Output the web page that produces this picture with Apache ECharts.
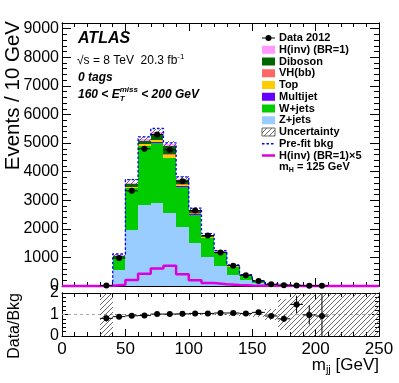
<!DOCTYPE html>
<html>
<head>
<meta charset="utf-8">
<title>mjj, 0 tags</title>
<script src="https://cdn.jsdelivr.net/npm/echarts@6.0.0/dist/echarts.min.js"></script>
<style>
  html, body { margin: 0; padding: 0; background: #fff; }
  #chart { width: 399px; height: 383px; }
</style>
</head>
<body>
<div id="chart"></div>
<script>
// m_jj bins, 10 GeV wide
var binLow = [0, 10, 20, 30, 40, 50, 60, 70, 80, 90, 100, 110, 120, 130, 140, 150, 160, 170, 180, 190, 200, 210, 220, 230, 240];
var binWidth = 10;

// Data 2012
var dataCounts = [null, null, null, 15, 980, 3330, 4800, 5300, 4770, 3660, 2640, 1765, 1170, 712, 375, 175, 60, 30, 20, 10, 7, null, null, null, null];
var dataErr    = [0, 0, 0, 4, 31, 58, 69, 73, 69, 60, 51, 42, 34, 27, 19, 13, 8, 5, 4, 3, 3, 0, 0, 0, 0];

// backgrounds, stacked from the bottom
var zJets    = [0, 0, 0, 8, 560, 1965, 2840, 2900, 2550, 2060, 1500, 1030, 712, 386, 210, 90, 35, 20, 7, 5, 4, 0, 0, 0, 0];
var wJets    = [0, 0, 0, 7, 440, 1455, 2050, 2110, 1930, 1420, 1000, 650, 440, 290, 150, 70, 28, 15, 6, 4, 3, 0, 0, 0, 0];
var multijet = [0, 0, 0, 1, 5, 10, 10, 10, 8, 6, 5, 3, 2, 1, 1, 0, 0, 0, 0, 0, 0, 0, 0, 0, 0];
var topQ     = [0, 0, 0, 1, 15, 35, 60, 80, 110, 60, 30, 20, 10, 8, 5, 2, 1, 0, 0, 0, 0, 0, 0, 0, 0];
var vhbb     = [0, 0, 0, 0, 3, 8, 12, 15, 18, 12, 6, 4, 2, 1, 1, 0, 0, 0, 0, 0, 0, 0, 0, 0, 0];
var diboson  = [0, 0, 0, 1, 30, 90, 100, 200, 270, 140, 90, 55, 40, 25, 15, 8, 3, 2, 1, 1, 1, 0, 0, 0, 0];
var hinv     = [0, 0, 0, 0, 20, 55, 60, 80, 90, 60, 35, 20, 15, 8, 5, 3, 1, 0, 0, 0, 0, 0, 0, 0, 0];
var bkgUnc   = [0, 0, 0, 5, 40, 110, 120, 110, 100, 80, 60, 40, 30, 20, 12, 8, 4, 3, 2, 2, 2, 0, 0, 0, 0];
var prefit   = [0, 0, 0, 20, 1120, 3720, 5217, 5510, 5010, 3815, 2725, 1830, 1240, 740, 400, 185, 70, 40, 15, 10, 8, 0, 0, 0, 0];
var hinvX5   = [0, 0, 0, 5, 40, 210, 430, 610, 712, 410, 200, 105, 65, 35, 20, 12, 8, 5, 3, 2, 1, 0, 0, 0, 0];

// Data/Bkg panel
var ratioVals = [null, null, null, 0.82, 0.90, 0.94, 0.95, 1.02, 1.02, 1.03, 1.05, 1.05, 1.07, 1.07, 1.05, 1.10, 0.93, 0.80, 1.47, 0.98, 0.93, null, null, null, null];
var ratioErr  = [0, 0, 0, 0.15, 0.03, 0.02, 0.02, 0.02, 0.02, 0.02, 0.02, 0.02, 0.03, 0.04, 0.06, 0.08, 0.12, 0.15, 0.40, 0.45, 1.20, 0, 0, 0, 0];
var ratioUnc  = [0, 0, 0, 2, 0.04, 0.03, 0.03, 0.03, 0.03, 0.03, 0.03, 0.04, 0.04, 0.05, 0.06, 0.12, 0.27, 0.70, 2, 2, 2, 2, 2, 2, 2];

var stackNames  = ['Z+jets', 'W+jets', 'Multijet', 'Top', 'VH(bb)', 'Diboson', 'H(inv) (BR=1)'];
var stackValues = [zJets, wJets, multijet, topQ, vhbb, diboson, hinv];
var stackColors = ['#99ccff', '#00cc00', '#6600ff', '#ffcc00', '#ff6666', '#006600', '#ff99ff'];

var FAMILY = '"Liberation Sans", Arial, sans-serif';

// hatch pattern for the uncertainty bands
function makeHatch() {
    var c = document.createElement('canvas');
    c.width = 5; c.height = 5;
    var g = c.getContext('2d');
    g.strokeStyle = '#444';
    g.lineWidth = 0.8;
    g.beginPath();
    g.moveTo(0, 5); g.lineTo(5, 0);
    g.moveTo(-1, 1); g.lineTo(1, -1);
    g.moveTo(4, 6); g.lineTo(6, 4);
    g.stroke();
    return c;
}
var hatch = makeHatch();

function stackTotal(i) {
    var s = 0;
    for (var k = 0; k < stackValues.length; k++) s += stackValues[k][i];
    return s;
}

function rectBetween(api, x0, x1, lo, hi) {
    var p0 = api.coord([x0, hi]);
    var p1 = api.coord([x1, lo]);
    var l = Math.round(p0[0]), r = Math.round(p1[0]);
    var t = Math.round(p0[1]), b = Math.round(p1[1]);
    return { x: l, y: t, width: r - l, height: b - t };
}

function stackRenderer(k) {
    return function (params, api) {
        var i = params.dataIndex;
        var lo = 0;
        for (var j = 0; j < k; j++) lo += stackValues[j][i];
        var hi = lo + stackValues[k][i];
        if (hi <= lo) return;
        return {
            type: 'rect',
            shape: rectBetween(api, binLow[i], binLow[i] + binWidth, lo, hi),
            style: { fill: stackColors[k] }
        };
    };
}

function errorRenderer(values, errs, ymin, ymax, r) {
    return function (params, api) {
        var i = params.dataIndex;
        var v = values[i];
        if (v == null) return;
        var x0 = binLow[i], xc = x0 + binWidth / 2;
        var c = api.coord([xc, v]);
        var pl = api.coord([x0, v]), pr = api.coord([x0 + binWidth, v]);
        var pt = api.coord([xc, Math.min(ymax, v + errs[i])]);
        var pb = api.coord([xc, Math.max(ymin, v - errs[i])]);
        return {
            type: 'group',
            children: [
                { type: 'line', shape: { x1: pl[0], y1: pl[1], x2: pr[0], y2: pr[1] }, style: { stroke: '#000', lineWidth: 1 } },
                { type: 'line', shape: { x1: pt[0], y1: pt[1], x2: pb[0], y2: pb[1] }, style: { stroke: '#000', lineWidth: 1 } },
                { type: 'circle', shape: { cx: c[0], cy: c[1], r: r }, style: { fill: '#000' } }
            ]
        };
    };
}

function stepData(vals) {
    var d = binLow.map(function (x, i) { return [x, vals[i]]; });
    d.push([binLow[binLow.length - 1] + binWidth, vals[vals.length - 1]]);
    return d;
}

var binItems = binLow.map(function (x) { return [x]; });

var series = [];
stackValues.forEach(function (vals, k) {
    series.push({
        name: stackNames[k], type: 'custom', xAxisIndex: 0, yAxisIndex: 0,
        data: binItems, renderItem: stackRenderer(k), z: 1, silent: true
    });
});
// uncertainty on the total
series.push({
    type: 'custom', xAxisIndex: 0, yAxisIndex: 0, data: binItems, z: 2, silent: true,
    renderItem: function (params, api) {
        var i = params.dataIndex;
        if (!bkgUnc[i]) return;
        var tot = stackTotal(i);
        return {
            type: 'rect',
            shape: rectBetween(api, binLow[i], binLow[i] + binWidth, Math.max(0, tot - bkgUnc[i]), tot + bkgUnc[i]),
            style: { fill: { image: hatch, repeat: 'repeat' } }
        };
    }
});
series.push({
    name: 'Pre-fit bkg', type: 'line', xAxisIndex: 0, yAxisIndex: 0, step: 'end',
    data: stepData(prefit), symbol: 'none', z: 3, silent: true, clip: false,
    lineStyle: { color: '#0000ff', width: 1.3, type: [2.5, 2] }
});
series.push({
    name: 'H(inv) (BR=1)x5', type: 'line', xAxisIndex: 0, yAxisIndex: 0, step: 'end',
    data: stepData(hinvX5), symbol: 'none', z: 4, silent: true, clip: false,
    lineStyle: { color: '#dd00dd', width: 2.5 }
});
series.push({
    name: 'Data 2012', type: 'custom', xAxisIndex: 0, yAxisIndex: 0, data: binItems, z: 5, silent: true,
    renderItem: errorRenderer(dataCounts, dataErr, 0, 9200, 3)
});

// ratio panel
series.push({
    type: 'line', xAxisIndex: 2, yAxisIndex: 4, data: [[0, 1], [250, 1]], symbol: 'none', z: 1, silent: true,
    lineStyle: { color: '#aaaaaa', width: 1, type: [3, 3] }
});
series.push({
    type: 'custom', xAxisIndex: 2, yAxisIndex: 4, data: binItems, z: 2, silent: true,
    renderItem: function (params, api) {
        var i = params.dataIndex;
        if (!ratioUnc[i]) return;
        return {
            type: 'rect',
            shape: rectBetween(api, binLow[i], binLow[i] + binWidth, Math.max(0, 1 - ratioUnc[i]), Math.min(2, 1 + ratioUnc[i])),
            style: { fill: { image: hatch, repeat: 'repeat' } }
        };
    }
});
series.push({
    type: 'custom', xAxisIndex: 2, yAxisIndex: 4, data: binItems, z: 5, silent: true,
    renderItem: errorRenderer(ratioVals, ratioErr, 0, 2, 3)
});

function xAxis(grid, pos, labels, major, minor) {
    return {
        type: 'value', gridIndex: grid, position: pos, min: 0, max: 250, interval: 50,
        axisLine: { show: true, onZero: false, lineStyle: { color: '#000', width: 1 } },
        axisTick: { show: true, inside: true, length: major, lineStyle: { color: '#000', width: 1 } },
        minorTick: { show: true, splitNumber: 5, length: minor, lineStyle: { color: '#000', width: 1 } },
        axisLabel: { show: labels, margin: 5, fontSize: 17, color: '#000', fontFamily: FAMILY },
        splitLine: { show: false }, minorSplitLine: { show: false }
    };
}

function yAxis(grid, pos, max, interval, labels, len, fmt) {
    return {
        type: 'value', gridIndex: grid, position: pos, min: 0, max: max, interval: interval,
        axisLine: { show: true, onZero: false, lineStyle: { color: '#000', width: 1 } },
        axisTick: { show: true, inside: true, length: len, lineStyle: { color: '#000', width: 1 } },
        axisLabel: { show: labels, margin: 3, fontSize: 16, color: '#000', fontFamily: FAMILY, formatter: fmt },
        splitLine: { show: false }
    };
}

var thousands = function (v) { return v % 1000 === 0 ? String(v) : ''; };
var units = function (v) { return Math.abs(v - Math.round(v)) < 1e-6 ? String(Math.round(v)) : ''; };

// small helper to lay out text runs with sub/superscripts
var measure = document.createElement('canvas').getContext('2d');
function fontStr(size, bold, italic) {
    return (italic ? 'italic ' : '') + (bold ? 'bold ' : '') + size + 'px ' + FAMILY;
}
function textRun(parts, x, y, opts) {
    opts = opts || {};
    var widths = parts.map(function (p) {
        measure.font = fontStr(p[1], opts.bold, opts.italic);
        return measure.measureText(p[0]).width;
    });
    var total = 0;
    parts.forEach(function (p, i) { if (!p[3]) total += widths[i]; });
    var cx = opts.alignRight ? x - total : x;
    var out = [];
    parts.forEach(function (p, i) {
        out.push({
            type: 'text', x: cx, y: y + (p[2] || 0), silent: true,
            style: { text: p[0], font: fontStr(p[1], opts.bold, opts.italic), fill: '#000', align: 'left', verticalAlign: 'middle' }
        });
        if (!p[3]) cx += widths[i];
    });
    return out;
}

var graphic = [];
graphic.push({
    type: 'text', x: 13, y: 21, rotation: Math.PI / 2, silent: true,
    style: { text: 'Events / 10 GeV', font: fontStr(20.5), fill: '#000', align: 'right', verticalAlign: 'middle' }
});
graphic.push({
    type: 'text', x: 15, y: 293, rotation: Math.PI / 2, silent: true,
    style: { text: 'Data/Bkg', font: fontStr(16), fill: '#000', align: 'right', verticalAlign: 'middle' }
});
graphic = graphic.concat(textRun([['m', 17], ['jj', 11, 5], [' [GeV]', 17]], 379, 365, { alignRight: true }));
graphic = graphic.concat(textRun([['ATLAS', 16]], 78, 39, { bold: true, italic: true }));
graphic = graphic.concat(textRun([['\u221As = 8 TeV  20.3 fb', 12], ['-1', 8, -4]], 77, 61));
graphic = graphic.concat(textRun([['0 tags', 12]], 78, 78, { bold: true, italic: true }));
graphic = graphic.concat(textRun([['160 < E', 12], ['T', 8, 4, true], ['miss', 8, -5], [' < 200 GeV', 12]], 78, 95, { bold: true, italic: true }));

// legend
var legendRows = ['Data 2012', 'H(inv) (BR=1)', 'Diboson', 'VH(bb)', 'Top', 'Multijet', 'W+jets', 'Z+jets', 'Uncertainty', 'Pre-fit bkg', 'H(inv) (BR=1)\u00D75'];
var legendSwatch = ['data', '#ff99ff', '#006600', '#ff6666', '#ffcc00', '#6600ff', '#00cc00', '#99ccff', 'hatch', 'dash', 'line'];
var ly0 = 38, ldy = 11.75, lx = 262, lw = 13;
legendRows.forEach(function (label, r) {
    var y = ly0 + r * ldy;
    var sw = legendSwatch[r];
    if (sw === 'data') {
        graphic.push({ type: 'line', silent: true, shape: { x1: lx, y1: y, x2: lx + lw, y2: y }, style: { stroke: '#000', lineWidth: 1 } });
        graphic.push({ type: 'circle', silent: true, shape: { cx: lx + lw / 2, cy: y, r: 3 }, style: { fill: '#000' } });
    } else if (sw === 'hatch') {
        graphic.push({ type: 'rect', silent: true, shape: { x: lx, y: y - 4, width: lw, height: 8 }, style: { fill: { image: hatch, repeat: 'repeat' }, stroke: '#666', lineWidth: 1 } });
    } else if (sw === 'dash') {
        graphic.push({ type: 'line', silent: true, shape: { x1: lx, y1: y, x2: lx + lw, y2: y }, style: { stroke: '#0000ff', lineWidth: 1.3, lineDash: [2.5, 2] } });
    } else if (sw === 'line') {
        graphic.push({ type: 'line', silent: true, shape: { x1: lx, y1: y, x2: lx + lw, y2: y }, style: { stroke: '#dd00dd', lineWidth: 2.5 } });
    } else {
        graphic.push({ type: 'rect', silent: true, shape: { x: lx, y: y - 4, width: lw, height: 8 }, style: { fill: sw } });
    }
    graphic = graphic.concat(textRun([[label, 11]], lx + lw + 4, y, { bold: true }));
});
graphic = graphic.concat(textRun([['m', 11], ['H', 7, 3], [' = 125 GeV', 11]], lx + lw + 4, ly0 + legendRows.length * ldy, { bold: true }));

var chart = echarts.init(document.getElementById('chart'), null, { renderer: 'canvas' });
chart.setOption({
    animation: false,
    backgroundColor: '#fff',
    grid: [
        { left: 62, top: 23, width: 317, height: 263 },
        { left: 62, top: 293, width: 317, height: 43 }
    ],
    xAxis: [
        xAxis(0, 'bottom', false, 8, 4),
        xAxis(0, 'top', false, 8, 4),
        xAxis(1, 'bottom', true, 7, 4),
        xAxis(1, 'top', false, 7, 4)
    ],
    yAxis: [
        yAxis(0, 'left', 9200, 1000, true, 9, thousands),
        yAxis(0, 'left', 9200, 200, false, 5),
        yAxis(0, 'right', 9200, 1000, false, 9),
        yAxis(0, 'right', 9200, 200, false, 5),
        yAxis(1, 'left', 2, 1, true, 7, units),
        yAxis(1, 'left', 2, 0.2, false, 4),
        yAxis(1, 'right', 2, 1, false, 7),
        yAxis(1, 'right', 2, 0.2, false, 4)
    ],
    series: series,
    graphic: graphic
});
</script>
</body>
</html>
